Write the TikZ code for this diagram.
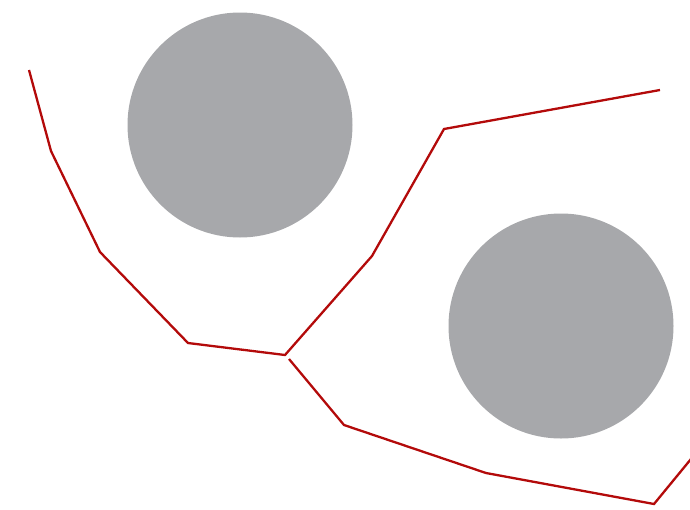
\documentclass[tikz,border=0pt]{standalone}
\usepackage{xcolor}
\definecolor{DiskGray}{HTML}{A7A8AB}
\definecolor{PathRed}{HTML}{B30A0A}
\usepackage{tikz}

\begin{document}
\begin{tikzpicture}[x=1pt,y=-1pt,
 disk/.style={fill=DiskGray,draw=none},
 route/.style={draw=PathRed,line width=2.3pt,line join=miter}]
\useasboundingbox (0,0) rectangle (690,509);
\clip (0,0) rectangle (690,509);
\fill[disk] (240,125) circle (112.5);
\fill[disk] (561,326) circle (112.5);
\draw[route] (29,70)--(51,151)--(100,252)--(188,343)--(285,355)
 --(372,256)--(444,129)--(660,90);
\draw[route] (289,359)--(344,425)--(486,473)--(654,504)--(700,448);
\end{tikzpicture}
\end{document}
